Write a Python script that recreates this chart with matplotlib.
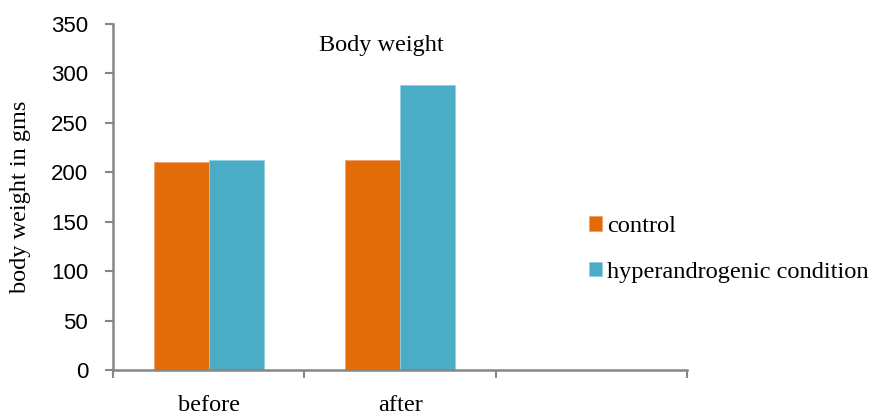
import numpy as np
import matplotlib.pyplot as plt

# data
groups = ["before", "after", ""]
control = [210.5, 212, np.nan]
hyper = [212, 288, np.nan]
series_names = ["control", "hyperandrogenic condition"]

serif = "Liberation Serif"
sans = "Liberation Sans"
axis_gray = "#868686"

fig = plt.figure(figsize=(8.79, 4.17), dpi=100)
ax = fig.add_axes([0.1286, 0.1127, 0.6530, 0.8297])

x = np.arange(len(groups))
w = 0.288
ax.bar(x - w / 2, control, w, color="#E36C0A", edgecolor="#F0A070", linewidth=0.6, label=series_names[0])
ax.bar(x + w / 2, hyper, w, color="#4BACC6", edgecolor="#8FD0E0", linewidth=0.6, label=series_names[1])

ax.set_xlim(-0.5, 2.5)
ax.set_ylim(0, 350)
ax.set_yticks(range(0, 351, 50))
ax.set_xticks(x)
ax.set_xticklabels(groups, fontfamily=serif, fontsize=17.5)
ax.tick_params(axis="x", which="major", length=0, pad=18)
ax.set_xticks(np.arange(-0.5, 3, 1), minor=True)
ax.tick_params(axis="x", which="minor", length=6, color=axis_gray, width=1.5)
ax.tick_params(axis="y", length=6, color=axis_gray, width=1.5, labelsize=16, pad=12)
for lab in ax.get_yticklabels():
    lab.set_fontfamily(sans)

for side in ["top", "right"]:
    ax.spines[side].set_visible(False)
for side in ["left", "bottom"]:
    ax.spines[side].set_color(axis_gray)
    ax.spines[side].set_linewidth(1.8)

ax.set_ylabel("body weight in gms", fontfamily=serif, fontsize=17.5, labelpad=14)
ax.text(0.467, 0.939, "Body weight", transform=ax.transAxes, ha="center", va="center",
        fontfamily=serif, fontsize=17.5)

fig.legend(loc="center left", bbox_to_anchor=(0.645, 0.402), frameon=False,
           prop={"family": serif, "size": 17.6}, handlelength=0.55, handleheight=0.55,
           handletextpad=0.2, labelspacing=1.0)

fig.savefig("out.png", dpi=100)
